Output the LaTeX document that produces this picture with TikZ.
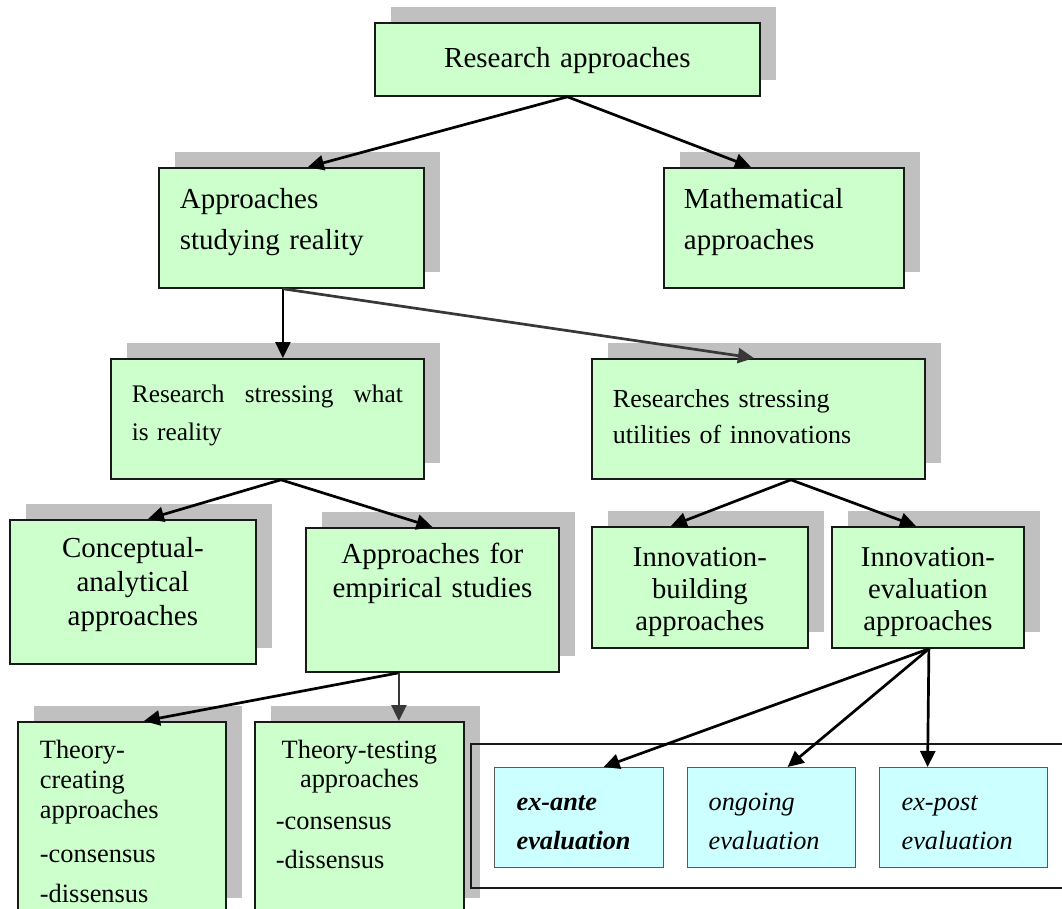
\documentclass[tikz,border=0pt]{standalone}
\usepackage{fontspec}
\setmainfont{Liberation Serif}
\usetikzlibrary{arrows.meta,shadows}

\definecolor{boxgreen}{HTML}{CCFFCC}
\definecolor{boxcyan}{HTML}{CCFFFF}
\definecolor{shade}{HTML}{C0C0C0}

\tikzset{
  greenbox/.style={draw=black!90, line width=1.8pt, fill=boxgreen,
    anchor=north west, inner ysep=0pt,
    general shadow={fill=shade, shadow xshift=16pt, shadow yshift=16pt}},
  cyanbox/.style={draw=black!65, line width=1.2pt, fill=boxcyan,
    anchor=north west, inner ysep=0pt, inner xsep=22pt, text width=125pt,
    text height=43pt, text depth=57pt, align=left},
  groupframe/.style={draw=black!90, line width=2.2pt, anchor=north west,
    inner sep=0pt},
  arr/.style={line width=2.7pt, -{Triangle[length=16pt,width=15pt]}},
  greyarr/.style={arr, draw=black!78, fill=black!78},
}

\begin{document}
\begin{tikzpicture}[x=1pt,y=-1pt]
\useasboundingbox (0,0) rectangle (1062,909);
\clip (0,0) rectangle (1062,909);

% top level
\node[greenbox, inner xsep=0pt, text width=385pt, text height=45pt, text depth=28pt, align=center,
  font=\fontsize{29pt}{41pt}\selectfont] (R) at (374,22) {Research approaches};

% second level
\node[greenbox, inner xsep=21pt, text width=223pt, text height=41pt, text depth=79pt, align=left,
  font=\fontsize{29pt}{41pt}\selectfont] (A) at (158,167) {Approaches\\studying reality};
\node[greenbox, inner xsep=20pt, text width=200pt, text height=41pt, text depth=79pt, align=left,
  font=\fontsize{29pt}{41pt}\selectfont] (M) at (663,167) {Mathematical\\approaches};

% third level
\node[greenbox, inner xsep=21pt, text width=271pt, text height=44pt, text depth=76pt, align=left,
  font=\fontsize{25.3pt}{38pt}\selectfont] (RW) at (110,358)
  {Research\hfill stressing\hfill what\\is reality};
\node[greenbox, inner xsep=21pt, text width=291pt, text height=49pt, text depth=71pt, align=left,
  font=\fontsize{26pt}{36pt}\selectfont] (RU) at (591,358)
  {Researches stressing\\utilities of innovations};

% fourth level
\node[greenbox, inner xsep=0pt, text width=246pt, text height=38pt, text depth=106pt, align=center,
  font=\fontsize{29pt}{34pt}\selectfont] (C) at (9,519) {Conceptual-\\analytical\\approaches};
\node[greenbox, inner xsep=0pt, text width=253pt, text height=36pt, text depth=108pt, align=center,
  font=\fontsize{29pt}{34pt}\selectfont] (E) at (305,527) {Approaches for\\empirical studies};
\node[greenbox, inner xsep=0pt, text width=216pt, text height=40pt, text depth=81pt, align=center,
  font=\fontsize{28.7pt}{32pt}\selectfont] (IB) at (591,526) {Innovation-\\building\\approaches};
\node[greenbox, inner xsep=0pt, text width=192pt, text height=40pt, text depth=81pt, align=center,
  font=\fontsize{28.7pt}{32pt}\selectfont] (IE) at (831,526) {Innovation-\\evaluation\\approaches};

% fifth level
\node[greenbox, inner xsep=22pt, text width=164pt, text height=37pt, text depth=155pt, align=left,
  font=\fontsize{26.4pt}{30pt}\selectfont] (TC) at (17,721)
  {Theory-\\creating\\approaches\\[14pt]-consensus\\[10pt]-dissensus};
\node[greenbox, inner xsep=21pt, text width=167pt, text height=37pt, text depth=155pt, align=left,
  font=\fontsize{26.4pt}{29pt}\selectfont] (TT) at (254,721)
  {\makebox[\linewidth][c]{Theory-testing}\\\makebox[\linewidth][c]{approaches}\\[13pt]-consensus\\[10pt]-dissensus};

% evaluation timing group
\node[groupframe, minimum width=640pt, minimum height=144pt] (G) at (470,743) {};
\node[cyanbox, font=\fontsize{26.3pt}{39pt}\selectfont\bfseries\itshape] (XA) at (494,767)
  {ex-ante\\evaluation};
\node[cyanbox, inner xsep=21pt, text width=126pt, font=\fontsize{26.3pt}{39pt}\selectfont\itshape] (OG) at (687,767)
  {ongoing\\evaluation};
\node[cyanbox, text width=124pt, font=\fontsize{26.3pt}{39pt}\selectfont\itshape] (XP) at (879,767)
  {ex-post\\evaluation};

% connectors
\draw[arr] (R.south) -- ([xshift=16.5pt]A.north);
\draw[arr] (R.south) -- ([xshift=-33pt]M.north);
\draw[arr] ([xshift=-8.5pt]A.south) -- ([xshift=15.5pt]RW.north);
\draw[greyarr] ([xshift=-8.5pt]A.south) -- ([xshift=-4.5pt]RU.north);
\draw[arr] ([xshift=13.5pt]RW.south) -- ([xshift=15pt]C.north);
\draw[arr] ([xshift=13.5pt]RW.south) -- (E.north);
\draw[arr] ([xshift=32.5pt]RU.south) -- ([xshift=-29pt]IB.north);
\draw[arr] ([xshift=32.5pt]RU.south) -- ([xshift=-12pt]IE.north);
\draw[arr] ([xshift=-33.5pt]E.south) -- ([xshift=22pt]TC.north);
\draw[greyarr] ([xshift=-33.5pt]E.south) -- ([xshift=39.5pt]TT.north);
\draw[arr] ([xshift=1pt]IE.south) -- ([xshift=24.5pt]XA.north);
\draw[arr] ([xshift=1pt]IE.south) -- ([xshift=16pt]OG.north);
\draw[arr] ([xshift=1pt]IE.south) -- ([xshift=-36pt]XP.north);
\end{tikzpicture}
\end{document}
